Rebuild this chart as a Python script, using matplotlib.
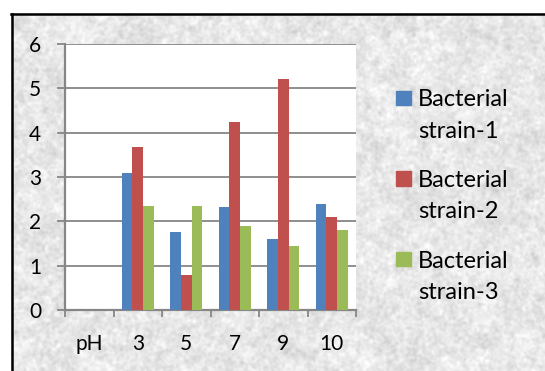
import numpy as np
import matplotlib
matplotlib.use("Agg")
import matplotlib.pyplot as plt
from matplotlib.patches import Rectangle

# pH categories and absorbance of each strain
CATEGORIES = ["pH", "3", "5", "7", "9", "10"]
STRAIN_1 = [0, 3.09, 1.77, 2.32, 1.60, 2.39]
STRAIN_2 = [0, 3.68, 0.78, 4.23, 5.20, 2.10]
STRAIN_3 = [0, 2.35, 2.34, 1.89, 1.45, 1.80]
SERIES_NAMES = [("Bacterial", "strain-1"), ("Bacterial", "strain-2"),
                ("Bacterial", "strain-3")]
COLORS = ["#4F81BD", "#C0504D", "#9BBB59"]

W, H = 545, 371
GRID = "#868686"
FONT = "Lato"


def granite(h, w, seed=3):
    """Mottled light-grey texture for the chart area."""
    rng = np.random.default_rng(seed)
    out = np.zeros((h, w))
    fy = np.fft.fftfreq(h)[:, None]
    fx = np.fft.fftfreq(w)[None, :]
    for scale, amp in [(1.2, 0.55), (3, 0.4), (9, 0.25)]:
        n = rng.normal(size=(h, w))
        k = np.exp(-(fx ** 2 + fy ** 2) * (2 * np.pi * scale) ** 2 / 2)
        s = np.real(np.fft.ifft2(np.fft.fft2(n) * k))
        out += amp * s / s.std()
    out = (out - out.mean()) / out.std()
    return np.clip(0.905 + 0.028 * out, 0.80, 0.99)


def px(x, y):
    """Pixel position (from top-left) to figure fraction."""
    return x / W, 1 - y / H


def main():
    fig = plt.figure(figsize=(W / 100, H / 100), dpi=100, facecolor="white")

    # textured backdrop inside the frame
    bg = fig.add_axes([11 / W, 0, 1 - 11 / W, 1 - 13 / H], zorder=0)
    bg.imshow(granite(H - 13, W - 11), cmap="gray", vmin=0, vmax=1,
              aspect="auto", interpolation="bilinear")
    bg.axis("off")

    # black frame, open on the right and bottom
    fig.add_artist(plt.Line2D([12 / W, 12 / W], [0, 1 - 13.5 / H],
                              color="black", lw=1.8, transform=fig.transFigure))
    fig.add_artist(plt.Line2D([11 / W, 1], [1 - 13.5 / H, 1 - 13.5 / H],
                              color="black", lw=1.8, transform=fig.transFigure))

    left, top = px(65, 44)
    right, bottom = px(356, 310)
    ax = fig.add_axes([left, bottom, right - left, top - bottom], zorder=1)
    ax.set_facecolor("white")

    x = np.arange(len(CATEGORIES))
    width = 1 / 4.5
    for i, (vals, c) in enumerate(zip([STRAIN_1, STRAIN_2, STRAIN_3], COLORS)):
        ax.bar(x + (i - 1) * width, vals, width, color=c, zorder=3)

    ax.set_xlim(-0.5, len(CATEGORIES) - 0.5)
    ax.set_ylim(0, 6)
    ax.set_yticks(range(0, 7))
    ax.set_xticks(x)
    ax.set_xticklabels(CATEGORIES)
    ax.set_xticks(np.arange(-0.5, len(CATEGORIES)), minor=True)

    ax.yaxis.grid(True, color=GRID, lw=1.3, zorder=1)
    ax.set_axisbelow(True)
    for s in ["top", "right"]:
        ax.spines[s].set_visible(False)
    for s in ["left", "bottom"]:
        ax.spines[s].set_color(GRID)
        ax.spines[s].set_linewidth(1.6)

    ax.tick_params(axis="y", length=6, width=1.3, color=GRID, pad=11,
                   labelsize=15, labelfontfamily=FONT)
    ax.tick_params(axis="x", which="major", length=0, pad=17,
                   labelsize=15, labelfontfamily=FONT)
    ax.tick_params(axis="x", which="minor", length=5, width=1.3, color=GRID)

    # legend drawn at the right of the plot area
    for i, ((line1, line2), c) in enumerate(zip(SERIES_NAMES, COLORS)):
        y0 = 80.5 * i
        fx, fy = px(396, 105 + y0)
        fig.add_artist(Rectangle((fx, fy), 14.5 / W, 14.5 / H, color=c,
                                 transform=fig.transFigure, zorder=5))
        for txt, base in [(line1, 106.5), (line2, 138)]:
            tx, ty = px(418, base + y0)
            fig.text(tx, ty, txt, ha="left", va="baseline", fontsize=17,
                     family=FONT, zorder=5)

    fig.savefig("out.png", dpi=100, facecolor="white")


if __name__ == "__main__":
    main()
